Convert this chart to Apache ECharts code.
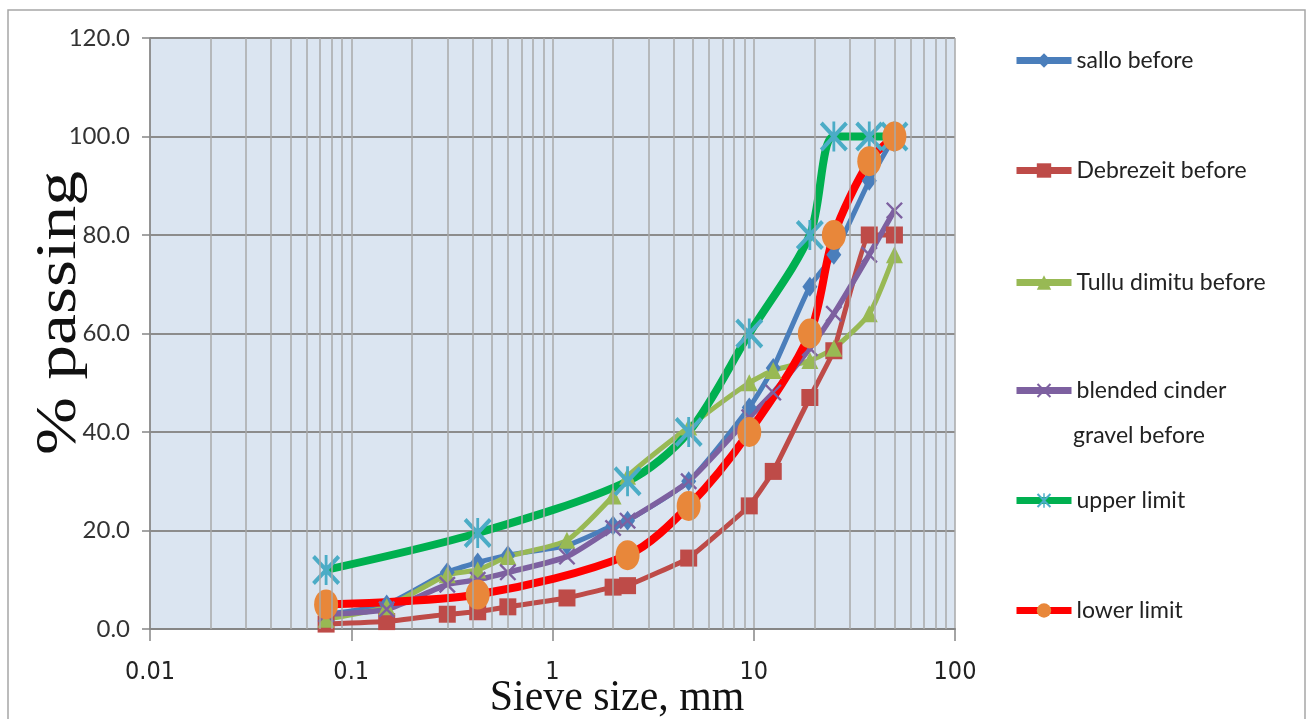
<!DOCTYPE html>
<html>
<head>
<meta charset="utf-8">
<script src="https://cdn.jsdelivr.net/npm/echarts@6/dist/echarts.min.js"></script>
<style>
  html, body { margin: 0; padding: 0; background: #fff; }
  #chart { width: 1312px; height: 719px; }
</style>
</head>
<body>
<div id="chart"></div>
<script>
// sieve sizes (mm)
const sieveSizes = [0.075, 0.15, 0.3, 0.425, 0.6, 1.18, 2.0, 2.36, 4.75, 9.5, 12.5, 19, 25, 37.5, 50];
const salloBefore = [3, 5, 11.5, 13.5, 15, 17, 21, 22, 30, 45, 53, 69.5, 76, 91, 100];
const debrezeitBefore = [1, 1.5, 3, 3.5, 4.5, 6.3, 8.5, 8.8, 14.4, 25, 32, 47, 56.5, 80, 80];
const tulluBefore = [2, 4.5, 11, 12, 14.7, 18, 27, 31, 41, 50, 52.5, 54.5, 57, 64, 76];
const blendedBefore = [3, 4, 9, 10, 11.5, 14.7, 20.5, 22, 30, 43, 48, 57, 64, 76, 85];

// specification limits
const limitSizes = [0.075, 0.425, 2.36, 4.75, 9.5, 19, 25, 37.5, 50];
const upperLimit = [12, 19.5, 30, 40, 60, 80, 100, 100, 100];
const lowerLimit = [5, 7, 15, 25, 40, 60, 80, 95, 100];

// axis ticks
const xTickLabels = ['0.01', '0.1', '1', '10', '100'];
const xMinorLines = [0.02, 0.03, 0.04, 0.05, 0.06, 0.07, 0.08, 0.09,
                     0.2, 0.3, 0.4, 0.5, 0.6, 0.7, 0.8, 0.9,
                     2, 3, 4, 5, 6, 7, 8, 9,
                     20, 30, 40, 50, 60, 70, 80, 90];

const xSymbol = 'path://M0,1L1,0L5,4L9,0L10,1L6,5L10,9L9,10L5,6L1,10L0,9L4,5Z';
const starSymbol = 'path://M0,1L1,0L5,4L9,0L10,1L6,5L10,9L9,10L5,6L1,10L0,9L4,5Z M4.5,0L5.5,0L5.5,10L4.5,10Z';

function pairs(xs, ys) {
    return xs.map((x, i) => [x, ys[i]]);
}

const chart = echarts.init(document.getElementById('chart'));

const legendFont = { fontFamily: 'Lato', fontSize: 23, color: '#222' };
function legendAt(name, top) {
    return {
        data: [name],
        left: 1013,
        top: top,
        padding: 0,
        orient: 'vertical',
        itemWidth: 55,
        itemHeight: 18,
        lineStyle: { width: 7 },
        textStyle: legendFont,
        formatter: n => n === 'blended cinder gravel before' ? 'blended cinder' : n
    };
}

chart.setOption({
    backgroundColor: '#fff',
    animation: false,
    grid: {
        left: 150, right: 357, top: 38, bottom: 90,
        containLabel: false,
        outerBoundsMode: 'none',
        show: true, backgroundColor: '#dbe5f1', borderWidth: 0
    },
    legend: [
        legendAt('sallo before', 49),
        legendAt('Debrezeit before', 159),
        legendAt('Tullu dimitu before', 271),
        legendAt('blended cinder gravel before', 379),
        legendAt('upper limit', 489),
        legendAt('lower limit', 599)
    ],
    graphic: [
        { type: 'rect', shape: { x: 8, y: 10, width: 1297, height: 716 },
          style: { fill: 'none', stroke: '#a6a6a6', lineWidth: 1.5 }, silent: true },
        { type: 'text', left: 1073, top: 424,
          style: { text: 'gravel before', font: '23px Lato', fill: '#222' } },
        // axis titles
        { type: 'text', x: 60, y: 313, rotation: Math.PI / 2, scaleX: 1.2,
          style: { text: '% passing', font: '58px "Liberation Serif"', fill: '#111',
                   textAlign: 'center', textVerticalAlign: 'middle' } },
        { type: 'text', x: 617, y: 698, scaleX: 0.93,
          style: { text: 'Sieve size, mm', font: '45px "Liberation Serif"', fill: '#111',
                   textAlign: 'center', textVerticalAlign: 'middle' } }
    ],
    xAxis: {
        type: 'log',
        logBase: 10,
        min: 0.01,
        max: 100,
        axisLine: { lineStyle: { color: '#868686', width: 2 } },
        axisTick: { show: true, length: 12, lineStyle: { color: '#868686', width: 1.5 } },
        axisLabel: {
            formatter: (v, i) => xTickLabels[i],
            fontFamily: '"Liberation Sans Narrow", "DejaVu Sans Condensed", "Roboto Condensed", sans-serif',
            fontSize: 25,
            margin: 31,
            color: '#222'
        },
        splitLine: { show: true, lineStyle: { color: '#a9a9a9', width: 1.5 } }
    },
    yAxis: {
        type: 'value',
        min: 0,
        max: 120,
        interval: 20,
        axisLine: { show: true, lineStyle: { color: '#868686', width: 1.5 } },
        axisTick: { show: true, length: 8, lineStyle: { color: '#868686', width: 1.5 } },
        axisLabel: {
            formatter: v => v.toFixed(1),
            fontFamily: 'Lato',
            fontSize: 24,
            margin: 20,
            color: '#333'
        },
        splitLine: { lineStyle: { color: '#8c8c8c', width: 2 } }
    },
    series: [
        {
            name: '_minor',
            type: 'line',
            data: [],
            silent: true,
            markLine: {
                silent: true,
                symbol: 'none',
                label: { show: false },
                lineStyle: { color: '#a9a9a9', width: 1.5, type: 'solid' },
                data: xMinorLines.map(v => ({ xAxis: v }))
            }
        },
        {
            name: 'sallo before',
            type: 'line',
            smooth: 0.2,
            data: pairs(sieveSizes, salloBefore),
            symbol: 'diamond',
            symbolSize: [15, 20],
            lineStyle: { color: '#4a7ebb', width: 5 },
            itemStyle: { color: '#4a7ebb' }
        },
        {
            name: 'Debrezeit before',
            type: 'line',
            smooth: 0.1,
            data: pairs(sieveSizes, debrezeitBefore),
            symbol: 'rect',
            symbolSize: [17, 17],
            lineStyle: { color: '#be4b48', width: 5 },
            itemStyle: { color: '#be4b48' }
        },
        {
            name: 'Tullu dimitu before',
            type: 'line',
            smooth: 0.2,
            data: pairs(sieveSizes, tulluBefore),
            symbol: 'triangle',
            symbolSize: [17, 17],
            lineStyle: { color: '#98b954', width: 5 },
            itemStyle: { color: '#98b954' }
        },
        {
            name: 'blended cinder gravel before',
            type: 'line',
            smooth: 0.2,
            data: pairs(sieveSizes, blendedBefore),
            symbol: xSymbol,
            symbolSize: [17, 17],
            lineStyle: { color: '#7d60a0', width: 5.5 },
            itemStyle: { color: '#7d60a0' }
        },
        {
            name: 'upper limit',
            type: 'line',
            smooth: 0.3,
            data: pairs(limitSizes, upperLimit),
            symbol: starSymbol,
            symbolSize: [28, 30],
            lineStyle: { color: '#00b050', width: 8 },
            itemStyle: { color: '#4bacc6' }
        },
        {
            name: 'lower limit',
            type: 'line',
            smooth: 0.3,
            data: pairs(limitSizes, lowerLimit),
            symbol: 'circle',
            symbolSize: [24, 30],
            lineStyle: { color: '#ff0000', width: 8 },
            itemStyle: { color: '#e8873a' }
        }
    ]
});
</script>
</body>
</html>
